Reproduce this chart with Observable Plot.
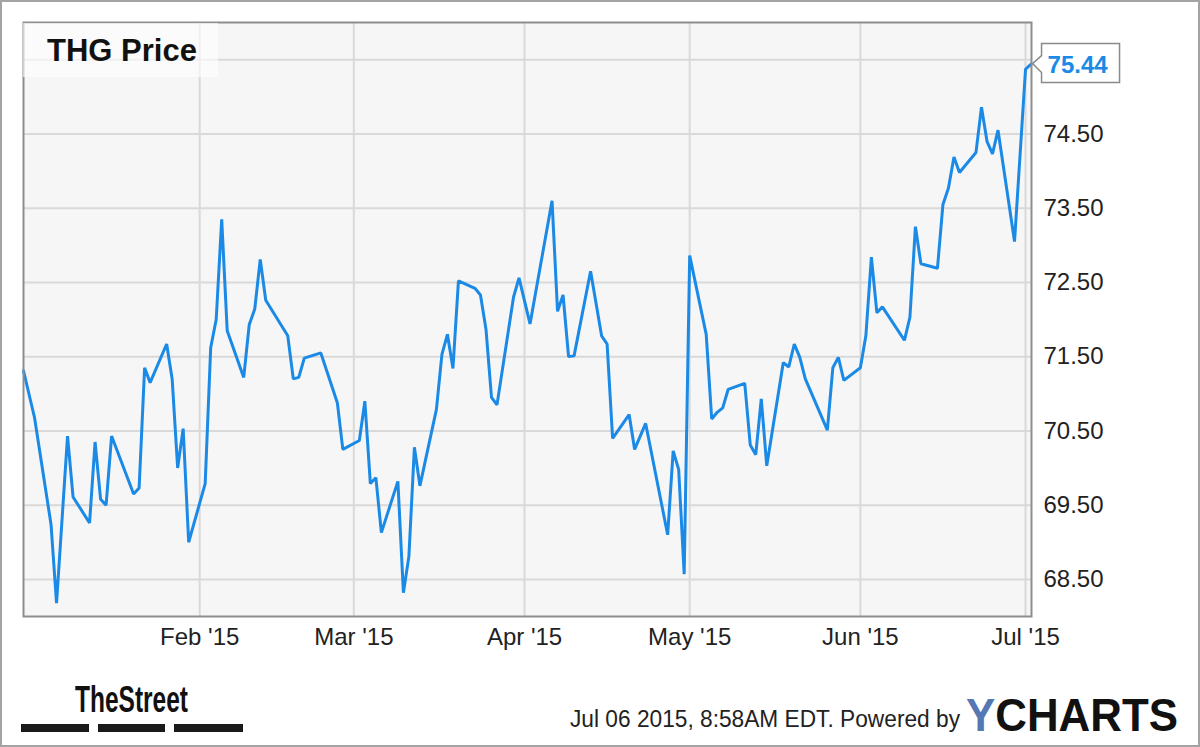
<!DOCTYPE html>
<html>
<head>
<meta charset="utf-8">
<script src="https://cdn.jsdelivr.net/npm/d3@7"></script>
<script src="https://cdn.jsdelivr.net/npm/@observablehq/plot@0.6"></script>
<style>
  html, body { margin: 0; padding: 0; background: #fff; }
  #wrap { position: relative; width: 1200px; height: 747px; overflow: hidden; background: #fff; }
  #wrap > svg { position: absolute; left: 0; top: 0; }
  #overlay { pointer-events: none; }
</style>
</head>
<body>
<div id="wrap"></div>
<script>
// ---- data ----
const dates = [
  "2014-12-31","2015-01-02","2015-01-05","2015-01-06","2015-01-08","2015-01-09","2015-01-12","2015-01-13",
  "2015-01-14","2015-01-15","2015-01-16","2015-01-20","2015-01-21","2015-01-22","2015-01-23","2015-01-26",
  "2015-01-27","2015-01-28","2015-01-29","2015-01-30","2015-02-02","2015-02-03","2015-02-04","2015-02-05",
  "2015-02-06","2015-02-09","2015-02-10","2015-02-11","2015-02-12","2015-02-13","2015-02-17","2015-02-18",
  "2015-02-19","2015-02-20","2015-02-23","2015-02-26","2015-02-27","2015-03-02","2015-03-03","2015-03-04",
  "2015-03-05","2015-03-06","2015-03-09","2015-03-10","2015-03-11","2015-03-12","2015-03-13","2015-03-16",
  "2015-03-17","2015-03-18","2015-03-19","2015-03-20","2015-03-23","2015-03-24","2015-03-25","2015-03-26",
  "2015-03-27","2015-03-30","2015-03-31","2015-04-02","2015-04-06","2015-04-07","2015-04-08","2015-04-09",
  "2015-04-10","2015-04-13","2015-04-15","2015-04-16","2015-04-17","2015-04-20","2015-04-21","2015-04-23",
  "2015-04-27","2015-04-28","2015-04-29","2015-04-30","2015-05-01","2015-05-04","2015-05-05","2015-05-06",
  "2015-05-07","2015-05-08","2015-05-11","2015-05-12","2015-05-13","2015-05-14","2015-05-15","2015-05-18",
  "2015-05-19","2015-05-20","2015-05-21","2015-05-22","2015-05-26","2015-05-27","2015-05-28","2015-05-29",
  "2015-06-01","2015-06-02","2015-06-03","2015-06-04","2015-06-05","2015-06-09","2015-06-10","2015-06-11",
  "2015-06-12","2015-06-15","2015-06-16","2015-06-17","2015-06-18","2015-06-19","2015-06-22","2015-06-23",
  "2015-06-24","2015-06-25","2015-06-26","2015-06-29","2015-07-01","2015-07-02"
];
const prices = [
  71.31,70.68,69.24,68.18,70.43,69.61,69.26,70.35,
  69.58,69.50,70.43,69.65,69.73,71.35,71.15,71.67,
  71.20,70.00,70.53,69.00,69.79,71.62,72.00,73.35,
  71.85,71.22,71.93,72.14,72.81,72.26,71.78,71.20,
  71.22,71.48,71.55,70.88,70.25,70.37,70.90,69.79,
  69.87,69.13,69.82,68.32,68.81,70.28,69.76,70.79,
  71.53,71.80,71.34,72.52,72.42,72.33,71.87,70.95,
  70.85,72.30,72.56,71.94,73.60,72.11,72.33,71.50,
  71.51,72.65,71.78,71.67,70.40,70.72,70.25,70.60,
  69.10,70.23,69.98,68.57,72.86,71.80,70.66,70.75,
  70.81,71.06,71.14,70.31,70.18,70.93,70.03,71.42,
  71.36,71.67,71.49,71.20,70.51,71.35,71.49,71.18,
  71.35,71.78,72.84,72.09,72.17,71.72,72.03,73.25,
  72.75,72.69,73.55,73.77,74.19,73.98,74.25,74.86,
  74.40,74.23,74.55,73.05,75.37,75.44
];
const monthTicks = ["2015-02-01","2015-03-01","2015-04-01","2015-05-01","2015-06-01","2015-07-01"];
const yTickLabels = [68.5, 69.5, 70.5, 71.5, 72.5, 73.5, 74.5];
const yGridValues = [68.5, 69.5, 70.5, 71.5, 72.5, 73.5, 74.5, 75.5];
const title = "THG Price";
const lastLabel = "75.44";
const footerText = "Jul 06 2015, 8:58AM EDT. Powered by";

// ---- build ----
const data = dates.map((d, i) => ({date: new Date(d + "T00:00:00Z"), price: prices[i]}));
const ticksX = monthTicks.map(d => new Date(d + "T00:00:00Z"));
const fmtMonth = d3.utcFormat("%b '%y");
const FONT = "Arial, 'Liberation Sans', Helvetica, sans-serif";
const LINE = "#1a8ae6";

const chart = Plot.plot({
  width: 1200,
  height: 668,
  marginLeft: 23,
  marginRight: 169,
  marginTop: 22,
  marginBottom: 52,
  style: {background: "transparent", fontFamily: FONT, fontSize: "24px", color: "#222"},
  x: {type: "utc", domain: [new Date("2014-12-31T00:00:00Z"), new Date("2015-07-02T02:00:00Z")]},
  y: {domain: [68, 76]},
  marks: [
    Plot.frame({fill: "#f6f6f6"}),
    Plot.gridY(yGridValues, {stroke: "#d9d9d9", strokeOpacity: 1, strokeWidth: 2}),
    Plot.gridX(ticksX, {stroke: "#d9d9d9", strokeOpacity: 1, strokeWidth: 2}),
    Plot.line(data, {x: "date", y: "price", stroke: LINE, strokeWidth: 3, strokeLinejoin: "miter"}),
    Plot.frame({stroke: "#8e8e8e", strokeWidth: 2}),
    Plot.axisX(ticksX, {tickSize: 0, tickPadding: 11, tickFormat: fmtMonth, fontSize: 24, label: null}),
    Plot.axisY(yTickLabels, {anchor: "right", tickSize: 0, tickPadding: 12, tickFormat: d => d.toFixed(2), fontSize: 24, label: null})
  ]
});
const wrap = document.getElementById("wrap");
wrap.appendChild(chart);

// ---- overlay: title box, callout, footer ----
const svg = d3.select(wrap).append("svg")
  .attr("id", "overlay")
  .attr("width", 1200).attr("height", 747)
  .style("font-family", FONT);

// title box
svg.append("rect").attr("x", 23).attr("y", 23).attr("width", 195).attr("height", 54)
  .attr("fill", "#ffffff").attr("fill-opacity", 0.6);
svg.append("text").attr("x", 47).attr("y", 61)
  .attr("font-size", 31).attr("font-weight", "bold").attr("fill", "#111").text(title);

// callout at last point (positioned through the plot's scales)
const last = data[data.length - 1];
const px = chart.scale("x").apply(last.date);
const py = chart.scale("y").apply(last.price);
const bx = px + 11, bw = 78, bh = 39, boxTop = py - 20;
svg.append("path")
  .attr("d", `M${bx},${boxTop} H${bx + bw} V${boxTop + bh} H${bx} V${py + 9} L${px + 2},${py} L${bx},${py - 8} Z`)
  .attr("fill", "#fff").attr("stroke", "#8a8a8a").attr("stroke-width", 1.5);
svg.append("text").attr("x", bx + 6).attr("y", py + 9)
  .attr("font-size", 24).attr("font-weight", "bold").attr("fill", LINE).text(lastLabel);

// footer: TheStreet logo
svg.append("text").attr("x", 75).attr("y", 712)
  .attr("font-size", 36).attr("font-weight", "bold").attr("fill", "#111")
  .attr("textLength", 113).attr("lengthAdjust", "spacingAndGlyphs").text("TheStreet");
[[21, 89], [98, 165], [174, 243]].forEach(([a, b]) => {
  svg.append("rect").attr("x", a).attr("y", 724).attr("width", b - a).attr("height", 8).attr("fill", "#1a1a1a");
});

// footer: timestamp + powered by
svg.append("text").attr("x", 960).attr("y", 727).attr("text-anchor", "end")
  .attr("font-size", 23).attr("fill", "#222")
  .attr("textLength", 390).attr("lengthAdjust", "spacingAndGlyphs").text(footerText);
const yc = svg.append("text").attr("x", 966).attr("y", 731)
  .attr("font-size", 46).attr("font-weight", "bold")
  .attr("textLength", 212).attr("lengthAdjust", "spacingAndGlyphs");
yc.append("tspan").attr("fill", "#5577b3").text("Y");
yc.append("tspan").attr("fill", "#111").text("CHARTS");

// outer border
svg.append("rect").attr("x", 1).attr("y", 1).attr("width", 1198).attr("height", 745)
  .attr("fill", "none").attr("stroke", "#a3a3a3").attr("stroke-width", 2);
</script>
</body>
</html>
